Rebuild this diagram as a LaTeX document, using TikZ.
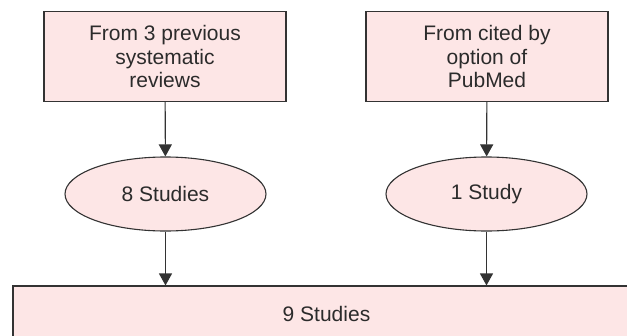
\documentclass[tikz,border=0pt]{standalone}
\usepackage{fontspec}
\setmainfont{Liberation Sans}
\usetikzlibrary{arrows.meta,shapes.geometric}
\definecolor{boxfill}{HTML}{FDE6E6}
\definecolor{boxline}{HTML}{333333}
\definecolor{txt}{HTML}{2B2B2B}
\tikzset{
  srcbox/.style={draw=boxline, fill=boxfill, line width=1.1pt, minimum width=242pt,
    minimum height=90pt, align=center, text=txt, font=\fontsize{21}{23.5}\selectfont},
  countell/.style={draw=boxline, fill=boxfill, line width=1.1pt, ellipse,
    minimum width=201pt, minimum height=74pt, inner sep=0pt, text=txt,
    font=\fontsize{21}{23.5}\selectfont},
  totalbox/.style={draw=boxline, fill=boxfill, line width=1.1pt, minimum width=627pt,
    minimum height=56pt, text=txt, font=\fontsize{21}{23.5}\selectfont},
  flow/.style={draw=boxline, line width=1.1pt, -{Triangle[width=13pt,length=12pt]}}
}
\begin{document}
\begin{tikzpicture}[x=1pt,y=1pt]
\useasboundingbox (0,0) rectangle (627,-335);
\clip (0,0) rectangle (627,-335);

\node[srcbox] (reviews) at (165,-56.5) {From 3 previous\\systematic\\reviews};
\node[srcbox] (pubmed) at (487,-56.5) {From cited by\\option of\\PubMed};

\node[countell] (eight) at (165.5,-194) {8 Studies};
\node[countell] (one) at (486.5,-194) {1 Study};

\node[totalbox] (nine) at (326.5,-314) {9 Studies};

\draw[flow] (reviews) -- (eight);
\draw[flow] (pubmed) -- (one);
\draw[flow] (eight.south) -- (eight.south |- nine.north);
\draw[flow] (one.south) -- (one.south |- nine.north);

\end{tikzpicture}
\end{document}
